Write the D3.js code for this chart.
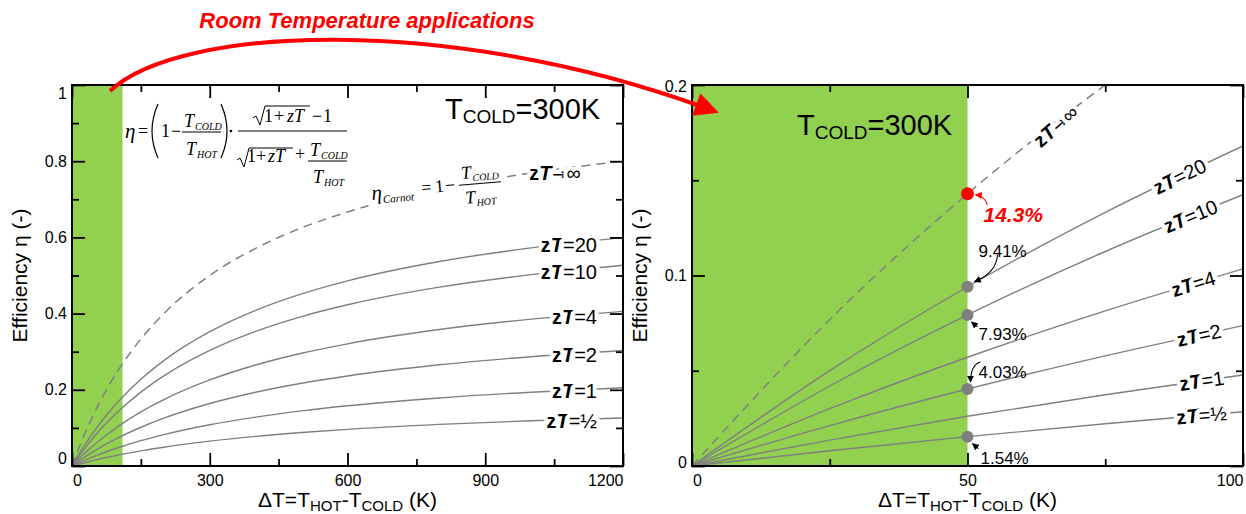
<!DOCTYPE html>
<html><head><meta charset="utf-8">
<script src="https://cdn.jsdelivr.net/npm/d3@7"></script>
<style>
body{margin:0;background:#fff;}
svg{display:block;font-family:"Liberation Sans",Arial,sans-serif;}
.tick text{font-size:16px;fill:#000;font-family:"Liberation Sans",Arial,sans-serif;}
.tick line{stroke:#000;stroke-width:1.8;}
.serif{font-family:"Liberation Serif","Times New Roman",serif;}
</style></head><body>
<script>
// temperature difference samples (K)
var dT      = [0, 25, 50, 75, 100, 150, 200, 300, 400, 500, 600, 800, 1000, 1200];
// efficiency
var carnot  = [0, 0.0769, 0.1429, 0.2000, 0.2500, 0.3333, 0.4000, 0.5000, 0.5714, 0.6250, 0.6667, 0.7273, 0.7692, 0.8000];
var eta20   = [0, 0.0501, 0.0941, 0.1331, 0.1680, 0.2275, 0.2765, 0.3524, 0.4085, 0.4517, 0.4859, 0.5366, 0.5725, 0.5993];
var eta10   = [0, 0.0420, 0.0793, 0.1126, 0.1424, 0.1939, 0.2366, 0.3035, 0.3535, 0.3922, 0.4231, 0.4694, 0.5024, 0.5270];
var eta4    = [0, 0.0301, 0.0571, 0.0814, 0.1035, 0.1419, 0.1743, 0.2259, 0.2651, 0.2959, 0.3207, 0.3583, 0.3854, 0.4059];
var eta2    = [0, 0.0212, 0.0404, 0.0578, 0.0737, 0.1017, 0.1256, 0.1640, 0.1936, 0.2171, 0.2363, 0.2656, 0.2869, 0.3031];
var eta1    = [0, 0.0136, 0.0261, 0.0374, 0.0478, 0.0664, 0.0823, 0.1082, 0.1284, 0.1447, 0.1580, 0.1786, 0.1937, 0.2053];
var etaHalf = [0, 0.0080, 0.0154, 0.0222, 0.0285, 0.0396, 0.0493, 0.0652, 0.0777, 0.0878, 0.0962, 0.1092, 0.1188, 0.1262];

var zTNames  = ["20", "10", "4", "2", "1", "½"];
var zTValues = [eta20, eta10, eta4, eta2, eta1, etaHalf];

// callouts on the right panel at dT = 50 K
var calloutNames = ["20", "10", "2", "½"];
var calloutTexts = ["9.41%", "7.93%", "4.03%", "1.54%"];
var carnotText = "14.3%";

var xTicksL = [0, 300, 600, 900, 1200], xMinorL = [150, 450, 750, 1050];
var yTicksL = [0, 0.2, 0.4, 0.6, 0.8, 1], yMinorL = [0.1, 0.3, 0.5, 0.7, 0.9];
var xTicksR = [0, 50, 100], xMinorR = [25, 75];
var yTicksR = [0, 0.1, 0.2], yMinorR = [0.05, 0.15];

var W = 1246, H = 514;
var svg = d3.select("body").append("svg").attr("width", W).attr("height", H);
var defs = svg.append("defs");

var series = zTNames.map(function(n, i) { return {name: n, v: zTValues[i]}; });
function byName(n) { return series.filter(function(s) { return s.name === n; })[0].v; }

function interp(vals, t) {
  for (var i = 0; i < dT.length - 1; i++) {
    if (t >= dT[i] && t <= dT[i + 1]) {
      var f = (t - dT[i]) / (dT[i + 1] - dT[i]);
      return vals[i] + f * (vals[i + 1] - vals[i]);
    }
  }
  return vals[vals.length - 1];
}

function halo(sel, w) {
  return sel.attr("stroke", "#fff").attr("stroke-width", w || 7)
    .attr("stroke-linejoin", "round").attr("paint-order", "stroke");
}

function zLabel(sel, name) {
  sel.append("tspan").attr("font-weight", "bold").text("z");
  sel.append("tspan").attr("font-weight", "bold").attr("font-style", "italic").text("T");
  if (name === "inf") {
    sel.append("tspan").attr("font-family", "DejaVu Sans").attr("font-size", 17).attr("dx", 1).text("→");
    sel.append("tspan").attr("dx", 0).text("∞");
  } else {
    sel.append("tspan").text("=" + name);
  }
}

function drawAxes(g, x, y, xMaj, xMin, yMaj, yMin, yFmt) {
  var b = y.range()[0], t = y.range()[1], l = x.range()[0], r = x.range()[1];
  function clean(s) { s.select(".domain").remove(); }
  g.append("g").attr("class", "xaxis").attr("transform", "translate(0," + b + ")")
    .call(d3.axisBottom(x).tickValues(xMaj).tickSize(-13).tickPadding(9).tickFormat(d3.format("d"))).call(clean);
  g.append("g").attr("transform", "translate(0," + b + ")")
    .call(d3.axisBottom(x).tickValues(xMin).tickSize(-7).tickFormat("")).call(clean);
  g.append("g").attr("transform", "translate(0," + t + ")")
    .call(d3.axisTop(x).tickValues(xMaj).tickSize(-13).tickFormat("")).call(clean);
  g.append("g").attr("transform", "translate(0," + t + ")")
    .call(d3.axisTop(x).tickValues(xMin).tickSize(-7).tickFormat("")).call(clean);
  g.append("g").attr("class", "yaxis").attr("transform", "translate(" + l + ",0)")
    .call(d3.axisLeft(y).tickValues(yMaj).tickSize(-13).tickPadding(5).tickFormat(yFmt)).call(clean);
  g.append("g").attr("transform", "translate(" + l + ",0)")
    .call(d3.axisLeft(y).tickValues(yMin).tickSize(-7).tickFormat("")).call(clean);
  g.append("g").attr("transform", "translate(" + r + ",0)")
    .call(d3.axisRight(y).tickValues(yMaj).tickSize(-13).tickFormat("")).call(clean);
  g.append("g").attr("transform", "translate(" + r + ",0)")
    .call(d3.axisRight(y).tickValues(yMin).tickSize(-7).tickFormat("")).call(clean);
  g.append("rect").attr("x", l).attr("y", t).attr("width", r - l).attr("height", b - t)
    .attr("fill", "none").attr("stroke", "#000").attr("stroke-width", 2);
  var xmax = x.domain()[1];
  g.selectAll(".xaxis .tick text").filter(function(d) { return d === 0; }).attr("dx", 5);
  g.selectAll(".xaxis .tick text").filter(function(d) { return d === xmax; }).attr("text-anchor", "end");
}

function axisTitles(g, x, y) {
  var cx = (x.range()[0] + x.range()[1]) / 2;
  var cy = (y.range()[0] + y.range()[1]) / 2;
  g.append("text").attr("transform", "translate(" + (x.range()[0] - 45) + "," + cy + ") rotate(-90)")
    .attr("text-anchor", "middle").attr("font-size", 21).text("Efficiency η (-)");
  var xt = g.append("text").attr("x", cx).attr("y", 507).attr("text-anchor", "middle").attr("font-size", 21);
  xt.append("tspan").text("ΔT=T");
  xt.append("tspan").attr("font-size", 15).attr("dy", 4).text("HOT");
  xt.append("tspan").attr("dy", -4).text("-T");
  xt.append("tspan").attr("font-size", 15).attr("dy", 4).text("COLD");
  xt.append("tspan").attr("dy", -4).text(" (K)");
}

function tcold(g, x0, y0) {
  var t = g.append("text").attr("x", x0).attr("y", y0).attr("font-size", 29);
  t.append("tspan").text("T");
  t.append("tspan").attr("font-size", 19).attr("dy", 4).text("COLD");
  t.append("tspan").attr("dy", -4).text("=300K");
}

// ---------------- left panel ----------------
var xL = d3.scaleLinear().domain([0, 1200]).range([72, 623]);
var yL = d3.scaleLinear().domain([0, 1]).range([466, 85]);
var gL = svg.append("g");

defs.append("clipPath").attr("id", "clipL").append("rect")
  .attr("x", 72).attr("y", 85).attr("width", 551).attr("height", 381);

gL.append("rect").attr("x", xL(0)).attr("y", yL(1)).attr("width", xL(110) - xL(0)).attr("height", yL(0) - yL(1))
  .attr("fill", "#92d050");

var lineL = d3.line().x(function(d) { return xL(d[0]); }).y(function(d) { return yL(d[1]); }).curve(d3.curveMonotoneX);
var plotL = gL.append("g").attr("clip-path", "url(#clipL)");
plotL.selectAll(".zt").data(series).enter().append("path")
  .attr("d", function(s) { return lineL(dT.map(function(t, i) { return [t, s.v[i]]; })); })
  .attr("fill", "none").attr("stroke", "#7f7f7f").attr("stroke-width", 1.4);
plotL.append("path")
  .attr("d", lineL(dT.map(function(t, i) { return [t, carnot[i]]; })))
  .attr("fill", "none").attr("stroke", "#808080").attr("stroke-width", 1.5).attr("stroke-dasharray", "9,6");

// labels on the left curves
series.forEach(function(s) {
  var t = gL.append("text").attr("x", 597).attr("y", yL(interp(s.v, 1085)) + 1).attr("dy", "0.35em")
    .attr("text-anchor", "end").attr("font-size", 20);
  halo(t, 8);
  zLabel(t, s.name);
});
var infL = gL.append("text").attr("x", 555).attr("y", yL(interp(carnot, 1052)) + 3).attr("dy", "0.35em")
  .attr("text-anchor", "middle").attr("font-size", 20);
halo(infL, 8);
zLabel(infL, "inf");

// efficiency formula
var fm = gL.append("g").attr("class", "serif").attr("font-size", 18);
function ft(x, y, s, opt) {
  var e = fm.append("text").attr("x", x).attr("y", y).text(s);
  if (opt && opt.it) e.attr("font-style", "italic");
  if (opt && opt.fs) e.attr("font-size", opt.fs);
  return e;
}
function fl(x1, y1, x2, y2) {
  fm.append("line").attr("x1", x1).attr("y1", y1).attr("x2", x2).attr("y2", y2).attr("stroke", "#000").attr("stroke-width", 1);
}
function root(x, y, w) {
  fm.append("path").attr("d", "M" + x + "," + (y + 10) + " l3,-2 l4,9 l5,-19 L" + (x + w) + "," + (y - 2))
    .attr("fill", "none").attr("stroke", "#000").attr("stroke-width", 1);
}
ft(125, 138, "η", {it: 1, fs: 21});
ft(138, 137, "=");
fm.append("path").attr("d", "M158,104 Q146,131 158,158").attr("fill", "none").attr("stroke", "#000").attr("stroke-width", 1.2);
fm.append("path").attr("d", "M221,104 Q233,131 221,158").attr("fill", "none").attr("stroke", "#000").attr("stroke-width", 1.2);
ft(161, 137, "1");
ft(171, 137, "−");
ft(184, 127, "T", {it: 1}); ft(195, 130, "COLD", {it: 1, fs: 10});
fl(182, 132, 221, 132);
ft(186, 155, "T", {it: 1}); ft(197, 158, "HOT", {it: 1, fs: 10});
fm.append("circle").attr("cx", 231).attr("cy", 131).attr("r", 1.3).attr("fill", "#000");
fl(238, 131, 347, 131);
root(253, 108, 57);
ft(264, 122, "1"); ft(274, 122, "+"); ft(287, 122, "zT", {it: 1}); ft(312, 122, "−"); ft(323, 122, "1");
root(237, 150, 56);
ft(247, 162, "1"); ft(256, 162, "+"); ft(268, 162, "zT", {it: 1}); ft(295, 160, "+");
ft(310, 156, "T", {it: 1}); ft(321, 159, "COLD", {it: 1, fs: 10});
fl(308, 161, 347, 161);
ft(313, 183, "T", {it: 1}); ft(324, 186, "HOT", {it: 1, fs: 10});

// carnot formula, along the dashed curve
var cf = gL.append("g").attr("class", "serif").attr("font-size", 18)
  .attr("transform", "translate(372,200) rotate(-5)");
cf.append("rect").attr("x", -4).attr("y", -30).attr("width", 140).attr("height", 46).attr("fill", "#fff");
function ct(x, y, s, it, fs) {
  var e = cf.append("text").attr("x", x).attr("y", y).text(s);
  if (it) e.attr("font-style", "italic");
  if (fs) e.attr("font-size", fs);
}
ct(0, 0, "η", 1, 21); ct(11, 4, "Carnot", 1, 11);
ct(50, -2, "="); ct(64, -2, "1"); ct(74, -2, "−");
ct(91, -13, "T", 1); ct(102, -10, "COLD", 1, 10);
cf.append("line").attr("x1", 88).attr("y1", -7).attr("x2", 130).attr("y2", -7).attr("stroke", "#000");
ct(93, 12, "T", 1); ct(104, 15, "HOT", 1, 10);

tcold(gL, 445, 119);
drawAxes(gL, xL, yL, xTicksL, xMinorL, yTicksL, yMinorL, function(d) { return d3.format("")(d); });
gL.selectAll(".yaxis .tick text").filter(function(d) { return d === 1; }).attr("y", 8);
gL.selectAll(".yaxis .tick text").filter(function(d) { return d === 0; }).attr("y", -8);
axisTitles(gL, xL, yL);

// ---------------- right panel ----------------
var xR = d3.scaleLinear().domain([0, 100]).range([692, 1243]);
var yR = d3.scaleLinear().domain([0, 0.2]).range([466, 85]);
var gR = svg.append("g");

defs.append("clipPath").attr("id", "clipR").append("rect")
  .attr("x", 692).attr("y", 85).attr("width", 551).attr("height", 381);

gR.append("rect").attr("x", xR(0)).attr("y", yR(0.2)).attr("width", xR(50) - xR(0)).attr("height", yR(0) - yR(0.2))
  .attr("fill", "#92d050");

var nR = dT.filter(function(t) { return t <= 100; }).length;
var lineR = d3.line().x(function(d) { return xR(d[0]); }).y(function(d) { return yR(d[1]); }).curve(d3.curveMonotoneX);
var plotR = gR.append("g").attr("clip-path", "url(#clipR)");
plotR.selectAll(".zt").data(series).enter().append("path")
  .attr("d", function(s) { return lineR(dT.slice(0, nR).map(function(t, i) { return [t, s.v[i]]; })); })
  .attr("fill", "none").attr("stroke", "#7f7f7f").attr("stroke-width", 1.4);
plotR.append("path")
  .attr("d", lineR(dT.slice(0, nR).map(function(t, i) { return [t, carnot[i]]; })))
  .attr("fill", "none").attr("stroke", "#808080").attr("stroke-width", 1.5).attr("stroke-dasharray", "9,6");

function angleAt(vals, a, b) {
  return Math.atan2(yR(interp(vals, b)) - yR(interp(vals, a)), xR(b) - xR(a)) * 180 / Math.PI;
}
var labelAtR = [88.5, 90.5, 91, 92, 92.5, 92.5];
series.forEach(function(s, i) {
  var t0 = labelAtR[i];
  var px = xR(t0), py = yR(interp(s.v, t0));
  var t = gR.append("text").attr("transform", "translate(" + px + "," + py + ") rotate(" + angleAt(s.v, 75, 100) + ")")
    .attr("dy", "0.35em").attr("text-anchor", "middle").attr("font-size", 20);
  halo(t, 8);
  zLabel(t, s.name);
});
var infR = gR.append("text")
  .attr("transform", "translate(" + xR(66) + "," + (yR(interp(carnot, 66)) + 2) + ") rotate(" + (angleAt(carnot, 50, 75) - 3) + ")")
  .attr("dy", "0.35em").attr("text-anchor", "middle").attr("font-size", 20);
halo(infR, 8);
zLabel(infR, "inf");

// callouts
defs.append("marker").attr("id", "tipK").attr("viewBox", "0 -5 10 10").attr("refX", 9)
  .attr("markerWidth", 7).attr("markerHeight", 7).attr("markerUnits", "userSpaceOnUse").attr("orient", "auto")
  .append("path").attr("d", "M0,-5L10,0L0,5Z").attr("fill", "#000");
defs.append("marker").attr("id", "tipRed").attr("viewBox", "0 -5 10 10").attr("refX", 9)
  .attr("markerWidth", 7).attr("markerHeight", 7).attr("markerUnits", "userSpaceOnUse").attr("orient", "auto")
  .append("path").attr("d", "M0,-5L10,0L0,5Z").attr("fill", "#f00");

var i50 = dT.indexOf(50);
// text offset and arrow path relative to each dot
var calloutGeom = [
  {tx: 11, ty: -36, arrow: "M30,-32 Q29,-14 7,-5"},
  {tx: 11, ty: 19, arrow: "M10,12 L4,7"},
  {tx: 11, ty: -17, arrow: "M13,-27 Q3,-24 3,-7"},
  {tx: 13, ty: 21, arrow: "M11,12 L5,7"}
];
calloutNames.forEach(function(n, i) {
  var cx = xR(50), cy = yR(byName(n)[i50]);
  gR.append("circle").attr("cx", cx).attr("cy", cy).attr("r", 6).attr("fill", "#808080");
  var gm = calloutGeom[i];
  gR.append("text").attr("x", cx + gm.tx).attr("y", cy + gm.ty).attr("dy", "0.35em").attr("font-size", 17).text(calloutTexts[i]);
  gR.append("path").attr("transform", "translate(" + cx + "," + cy + ")").attr("d", gm.arrow)
    .attr("fill", "none").attr("stroke", "#000").attr("stroke-width", 1.1).attr("marker-end", "url(#tipK)");
});
var ccx = xR(50), ccy = yR(carnot[i50]);
gR.append("circle").attr("cx", ccx).attr("cy", ccy).attr("r", 6.5).attr("fill", "#f00");
gR.append("text").attr("x", ccx + 16).attr("y", ccy + 21).attr("dy", "0.35em").attr("font-size", 21)
  .attr("font-weight", "bold").attr("font-style", "italic").attr("fill", "#f00").text(carnotText);
gR.append("path").attr("transform", "translate(" + ccx + "," + ccy + ")").attr("d", "M20,11 Q17,2 8,1")
  .attr("fill", "none").attr("stroke", "#f00").attr("stroke-width", 1.2).attr("marker-end", "url(#tipRed)");

tcold(gR, 797, 135);
drawAxes(gR, xR, yR, xTicksR, xMinorR, yTicksR, yMinorR, function(d) { return d3.format("")(d); });
gR.selectAll(".yaxis .tick text").filter(function(d) { return d === 0; }).attr("y", -4);
gR.selectAll(".yaxis .tick text").filter(function(d) { return d === 0.2; }).attr("y", 1);
axisTitles(gR, xR, yR);

// ---------------- red arrow between panels ----------------
defs.append("marker").attr("id", "bigArrow").attr("viewBox", "0 -5 10 10").attr("refX", 3)
  .attr("markerWidth", 28).attr("markerHeight", 24).attr("markerUnits", "userSpaceOnUse").attr("orient", "auto")
  .append("path").attr("d", "M0,-5L10,0L0,5Z").attr("fill", "#f00");
svg.append("path").attr("d", "M110,91 C180,25 450,15 703,107")
  .attr("fill", "none").attr("stroke", "#f00").attr("stroke-width", 4).attr("marker-end", "url(#bigArrow)");
svg.append("text").attr("x", 367).attr("y", 28).attr("text-anchor", "middle").attr("font-size", 22)
  .attr("font-weight", "bold").attr("font-style", "italic").attr("fill", "#f00").text("Room Temperature applications");
</script>
</body></html>
